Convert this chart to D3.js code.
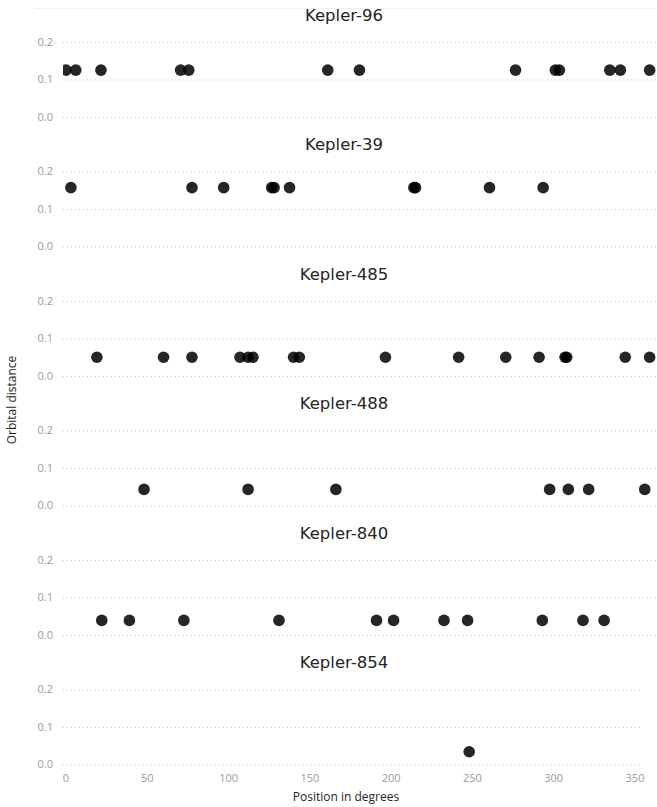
<!DOCTYPE html>
<html>
<head>
<meta charset="utf-8">
<script src="https://cdn.jsdelivr.net/npm/d3@7"></script>
<style>
  body { margin: 0; background: #fff; }
  .tick-label { font-family: "Open Sans", "Noto Sans", sans-serif; font-size: 11px; fill: #9a9a9a; }
  .title { font-family: "DejaVu Sans", "Roboto", sans-serif; font-size: 16.5px; fill: #252423; }
  .axis-title { font-family: "Open Sans", "Noto Sans", sans-serif; font-size: 12px; fill: #252423; }
</style>
</head>
<body>
<div id="vis"></div>
<script>
// chart data
const SYSTEMS = ["Kepler-96", "Kepler-39", "Kepler-485", "Kepler-488", "Kepler-840", "Kepler-854"];
const DISTANCES = [0.125, 0.157, 0.05, 0.043, 0.039, 0.034];

const POS_96 = [0, 6, 21.5, 70.5, 75.5, 161, 180.5, 276.5, 301, 303.5, 334.5, 341, 359];
const POS_39 = [3, 77.5, 97, 126.5, 128, 137.5, 214, 215, 260.5, 293.5];
const POS_485 = [19, 60, 77.5, 107, 112, 115, 140, 143.5, 196.5, 241.5, 270.5, 291, 307, 308, 344, 359];
const POS_488 = [48, 112, 166, 297.5, 309, 321.5, 356];
const POS_840 = [22, 39, 72.5, 131, 191, 201.5, 232.5, 247, 293, 318, 331];
const POS_854 = [248];
const POSITIONS = [POS_96, POS_39, POS_485, POS_488, POS_840, POS_854];

const X_TICKS = [0, 50, 100, 150, 200, 250, 300, 350];
const Y_TICKS = [0.0, 0.1, 0.2];

const FRAME_WIDTH = 657;
const FRAME_HEIGHT = 807;
const PLOT_LEFT = 63;
const PANEL_STEP = 129.5;
const FIRST_ZERO = 117;
const PANEL_HEIGHT = 75;

const FRAME = d3.select("#vis")
                .append("svg")
                    .attr("width", FRAME_WIDTH)
                    .attr("height", FRAME_HEIGHT);

// faint header line
FRAME.append("line")
    .attr("x1", 35).attr("x2", FRAME_WIDTH)
    .attr("y1", 8.5).attr("y2", 8.5)
    .attr("stroke", "#f2f2f2");

const X_SCALE = d3.scaleLinear()
                    .domain([0, 350])
                    .range([66, 635]);

FRAME.append("defs")
    .append("clipPath")
        .attr("id", "plotclip")
    .append("rect")
        .attr("x", PLOT_LEFT).attr("y", 0)
        .attr("width", FRAME_WIDTH - PLOT_LEFT)
        .attr("height", FRAME_HEIGHT);

SYSTEMS.forEach((name, i) => {
    const zero = FIRST_ZERO + i * PANEL_STEP;
    const Y_SCALE = d3.scaleLinear()
                        .domain([0, 0.2])
                        .range([zero, zero - PANEL_HEIGHT]);

    const panel = FRAME.append("g");
    const gridEnd = (i === SYSTEMS.length - 1) ? 643 : FRAME_WIDTH;

    // gridlines
    panel.selectAll(".grid")
        .data(Y_TICKS)
        .enter()
        .append("line")
            .attr("x1", PLOT_LEFT)
            .attr("x2", gridEnd)
            .attr("y1", (d) => { return Y_SCALE(d) + 0.5; })
            .attr("y2", (d) => { return Y_SCALE(d) + 0.5; })
            .attr("stroke", "#c8c8c8")
            .attr("stroke-width", 1)
            .attr("stroke-dasharray", "1,3");

    // y tick labels
    panel.selectAll(".ylab")
        .data(Y_TICKS)
        .enter()
        .append("text")
            .attr("class", "tick-label")
            .attr("x", 53)
            .attr("y", (d) => { return Y_SCALE(d); })
            .attr("dy", "0.35em")
            .attr("text-anchor", "end")
            .text((d) => { return d3.format(".1f")(d); });

    // title
    panel.append("text")
        .attr("class", "title")
        .attr("x", 344)
        .attr("y", zero - 102)
        .attr("dy", "0.35em")
        .attr("text-anchor", "middle")
        .text(name);

    // planets
    panel.append("g")
        .attr("clip-path", "url(#plotclip)")
        .selectAll("circle")
        .data(POSITIONS[i])
        .enter()
        .append("circle")
            .attr("cx", (d) => { return X_SCALE(d); })
            .attr("cy", Y_SCALE(DISTANCES[i]))
            .attr("r", 5.8)
            .attr("fill", "#000")
            .attr("fill-opacity", 0.85);
});

// x axis tick labels
FRAME.selectAll(".xlab")
    .data(X_TICKS)
    .enter()
    .append("text")
        .attr("class", "tick-label")
        .attr("x", (d) => { return X_SCALE(d); })
        .attr("y", 782)
        .attr("text-anchor", "middle")
        .text((d) => { return d; });

// axis titles
FRAME.append("text")
    .attr("class", "axis-title")
    .attr("x", 346)
    .attr("y", 801)
    .attr("text-anchor", "middle")
    .text("Position in degrees");

FRAME.append("text")
    .attr("class", "axis-title")
    .attr("transform", "translate(16,400) rotate(-90)")
    .attr("text-anchor", "middle")
    .text("Orbital distance");
</script>
</body>
</html>
